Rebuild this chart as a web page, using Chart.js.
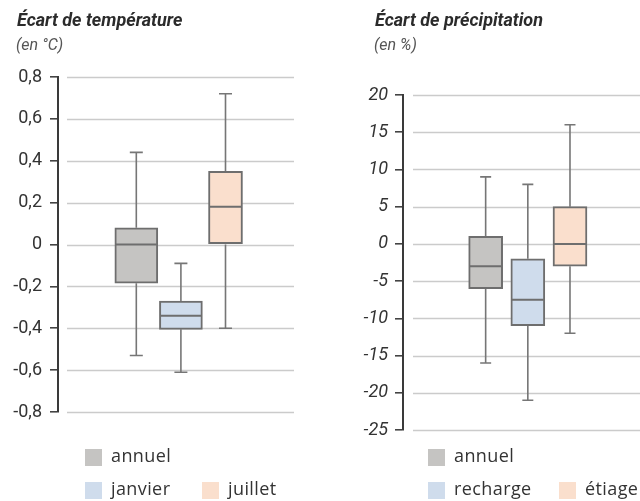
<!DOCTYPE html>
<html><head><meta charset="utf-8">
<script src="https://cdn.jsdelivr.net/npm/chart.js@4/dist/chart.umd.min.js"></script>
<style>
html,body{margin:0;padding:0;background:#fff;}
body{width:640px;height:501px;position:relative;overflow:hidden;font-family:Roboto,"Open Sans",sans-serif;color:#333;}
.panel{position:absolute;top:0;width:320px;height:501px;}
.panel canvas{position:absolute;left:0;top:0;}
.title{position:absolute;font-weight:bold;font-style:italic;font-size:18px;color:#2b2b2b;top:9px;white-space:nowrap;}
.unit{position:absolute;font-style:italic;font-size:16px;color:#555;top:35px;white-space:nowrap;}
.leg{position:absolute;font-family:"Open Sans",Roboto,sans-serif;font-size:18px;color:#333;white-space:nowrap;letter-spacing:0.4px;}
.sw{position:absolute;width:17px;height:17px;}
</style></head>
<body>
<div class="panel" style="left:0"><canvas id="c1" width="320" height="501"></canvas>
  <div class="title" style="left:17px">Écart de température</div>
  <div class="unit" style="left:16px">(en °C)</div>
</div>
<div class="panel" style="left:320px"><canvas id="c2" width="320" height="501"></canvas>
  <div class="title" style="left:55px">Écart de précipitation</div>
  <div class="unit" style="left:54px">(en %)</div>
</div>
<div id="legends"></div>
<script>
// ---- data ----
const tempCategories = ['annuel', 'janvier', 'juillet'];
const tempMin    = [-0.53, -0.61, -0.40];
const tempQ1     = [-0.185, -0.405, 0.0];
const tempMedian = [0.0, -0.34, 0.18];
const tempQ3     = [0.08, -0.27, 0.35];
const tempMax    = [0.44, -0.09, 0.72];

const precCategories = ['annuel', 'recharge', 'étiage'];
const precMin    = [-16, -21, -12];
const precQ1     = [-6, -11, -3];
const precMedian = [-3, -7.5, 0];
const precQ3     = [1, -2, 5];
const precMax    = [9, 8, 16];

const tempTicks = [-0.8, -0.6, -0.4, -0.2, 0, 0.2, 0.4, 0.6, 0.8];
const precTicks = [-25, -20, -15, -10, -5, 0, 5, 10, 15, 20];

// ---- styles ----
const fills = ['#c5c4c2', '#cfdcec', '#fadfcd'];
const boxBorder = '#6e6e6e';
const whiskerColor = '#767676';

const boxPlugin = {
  id: 'boxExtras',
  beforeDatasetsDraw(chart, args, opts) {
    const ctx = chart.ctx, y = chart.scales.y, area = chart.chartArea;
    ctx.save();
    ctx.strokeStyle = '#cbcbcb';
    ctx.lineWidth = 1.5;
    y.ticks.forEach(t => {
      const py = Math.round(y.getPixelForValue(t.value)) + 0.5;
      ctx.beginPath();
      ctx.moveTo(area.left + opts.gap, py);
      ctx.lineTo(area.right, py);
      ctx.stroke();
    });
    const st = opts.stats;
    ctx.strokeStyle = whiskerColor;
    ctx.lineWidth = 1.6;
    chart.data.datasets.forEach((ds, i) => {
      const bar = chart.getDatasetMeta(i).data[0];
      const x = bar.x;
      const cap = opts.cap;
      const yMin = y.getPixelForValue(st.min[i]);
      const yMax = y.getPixelForValue(st.max[i]);
      const yQ1 = y.getPixelForValue(st.q1[i]);
      const yQ3 = y.getPixelForValue(st.q3[i]);
      ctx.beginPath();
      ctx.moveTo(x, yMax); ctx.lineTo(x, yQ3);
      ctx.moveTo(x, yQ1); ctx.lineTo(x, yMin);
      ctx.moveTo(x - cap / 2, yMax); ctx.lineTo(x + cap / 2, yMax);
      ctx.moveTo(x - cap / 2, yMin); ctx.lineTo(x + cap / 2, yMin);
      ctx.stroke();
    });
    ctx.restore();
  },
  afterDatasetsDraw(chart, args, opts) {
    const ctx = chart.ctx, y = chart.scales.y;
    const st = opts.stats;
    ctx.save();
    ctx.strokeStyle = boxBorder;
    ctx.lineWidth = 2;
    chart.data.datasets.forEach((ds, i) => {
      const bar = chart.getDatasetMeta(i).data[0];
      const ym = y.getPixelForValue(st.med[i]);
      ctx.beginPath();
      ctx.moveTo(bar.x - bar.width / 2 + 1, ym);
      ctx.lineTo(bar.x + bar.width / 2 - 1, ym);
      ctx.stroke();
    });
    ctx.restore();
  }
};

function makeChart(id, cats, mn, q1, med, q3, mx, ticks, cfg) {
  const datasets = cats.map((c, i) => ({
    label: c,
    data: [{x: i + 1, y: [q1[i], q3[i]]}],
    backgroundColor: fills[i],
    borderColor: boxBorder,
    borderWidth: 2,
    borderSkipped: false,
    barThickness: cfg.widths[i]
  }));
  return new Chart(document.getElementById(id), {
    type: 'bar',
    data: {datasets},
    plugins: [boxPlugin],
    options: {
      responsive: false,
      animation: false,
      events: [],
      parsing: {xAxisKey: 'x', yAxisKey: 'y'},
      layout: {padding: cfg.padding},
      plugins: {
        legend: {display: false},
        tooltip: {enabled: false},
        boxExtras: {stats: {min: mn, q1, med, q3, max: mx}, cap: cfg.cap, gap: cfg.gap}
      },
      datasets: {bar: {grouped: false}},
      scales: {
        x: {type: 'linear', display: false, offset: false, min: cfg.xmin, max: cfg.xmax},
        y: {
          min: ticks[0], max: ticks[ticks.length - 1],
          afterFit: s => { s.width = cfg.axisWidth; },
          afterBuildTicks: s => { s.ticks = ticks.map(v => ({value: v})); },
          grid: {drawOnChartArea: false, drawTicks: true, tickLength: 8, color: '#444', lineWidth: 1.6},
          border: {display: true, color: '#3a3a3a', width: 2},
          ticks: {
            padding: cfg.tickPad,
            color: '#333',
            font: {family: 'Roboto', size: 18, style: cfg.italic ? 'italic' : 'normal'},
            callback: v => cfg.fmt(v)
          }
        }
      }
    }
  });
}

makeChart('c1', tempCategories, tempMin, tempQ1, tempMedian, tempQ3, tempMax, tempTicks, {
  widths: [43, 43, 34], cap: 13, gap: 9,
  xmin: -0.756, xmax: 4.536,
  padding: {left: 0, top: 77, right: 26, bottom: 89},
  axisWidth: 58, tickPad: 8, italic: false,
  fmt: v => v === 0 ? '0' : v.toFixed(1).replace('.', ',')
});
makeChart('c2', precCategories, precMin, precQ1, precMedian, precQ3, precMax, precTicks, {
  widths: [34, 34, 34], cap: 11, gap: 10,
  xmin: -0.96, xmax: 4.66,
  padding: {left: 0, top: 95, right: 0, bottom: 71},
  axisWidth: 83, tickPad: 7, italic: true,
  fmt: v => String(v)
});

// ---- HTML legends ----
const legendLayout = [
  {cats: tempCategories, pos: [[85, 449], [85, 482], [202, 482]]},
  {cats: precCategories, pos: [[428, 449], [428, 482], [559, 482]]}
];
const legRoot = document.getElementById('legends');
legendLayout.forEach(L => {
  L.cats.forEach((c, i) => {
    const [x, y] = L.pos[i];
    const sw = document.createElement('div');
    sw.className = 'sw';
    sw.style.left = x + 'px'; sw.style.top = y + 'px'; sw.style.background = fills[i];
    legRoot.appendChild(sw);
    const t = document.createElement('div');
    t.className = 'leg';
    t.textContent = c;
    t.style.left = (x + 26) + 'px'; t.style.top = (y - 6) + 'px';
    legRoot.appendChild(t);
  });
});
</script>
</body></html>
